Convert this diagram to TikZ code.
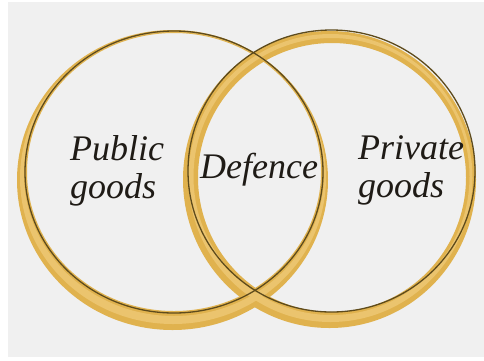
\documentclass[tikz,border=0pt]{standalone}
\usepackage{fontspec}
\setmainfont{Liberation Serif}
\usepackage{xcolor}
\usetikzlibrary{positioning}
\definecolor{paper}{HTML}{F0F0F0}
\definecolor{gold}{HTML}{E0B24E}
\definecolor{goldlight}{HTML}{EBC46E}
\definecolor{rim}{HTML}{5E4B1C}
\definecolor{ink}{HTML}{1F1B16}
\tikzset{
  band/.style = {fill=gold, even odd rule},
  shine/.style = {fill=goldlight, even odd rule},
  rimline/.style = {draw=rim, line width=1.3pt},
  word/.style = {align=left, inner sep=0pt, text=ink, font=\itshape\fontsize{36}{38}\selectfont},
}

\begin{document}
\begin{tikzpicture}[x=1pt,y=-1pt]
  \useasboundingbox (0,0) rectangle (484,360);
  \fill[white] (0,0) rectangle (484,360);
  \fill[paper] (8,2) rectangle (484,357);

  % golden brush bands, thick at the bottom
  \fill[band] (172.5,180) ellipse [x radius=155.5pt, y radius=150pt]
              (174,172) ellipse [x radius=147pt, y radius=139pt];
  \fill[band] (329.5,179.5) ellipse [x radius=146.5pt, y radius=148.5pt]
              (332,177.5) ellipse [x radius=134pt, y radius=134.5pt];
  % lighter streak inside each band
  \fill[shine] (173,178) ellipse [x radius=153pt, y radius=146pt]
               (174,174) ellipse [x radius=150pt, y radius=142pt];
  \fill[shine] (330.5,178) ellipse [x radius=142pt, y radius=144pt]
               (331.5,176.5) ellipse [x radius=138pt, y radius=138.5pt];

  % the two sets
  \draw[rimline] (174,172) ellipse [x radius=149pt, y radius=141pt];
  \draw[rimline] (331.5,171) ellipse [x radius=143.5pt, y radius=141pt];

  \node[word, anchor=base west] (pub) at (70,198) {Public\\goods};
  \node[word, anchor=base west] (def) at (200,178) {Defence};
  \node[word, anchor=base west] (priv) at (358,197) {Private\\goods};
\end{tikzpicture}
\end{document}
